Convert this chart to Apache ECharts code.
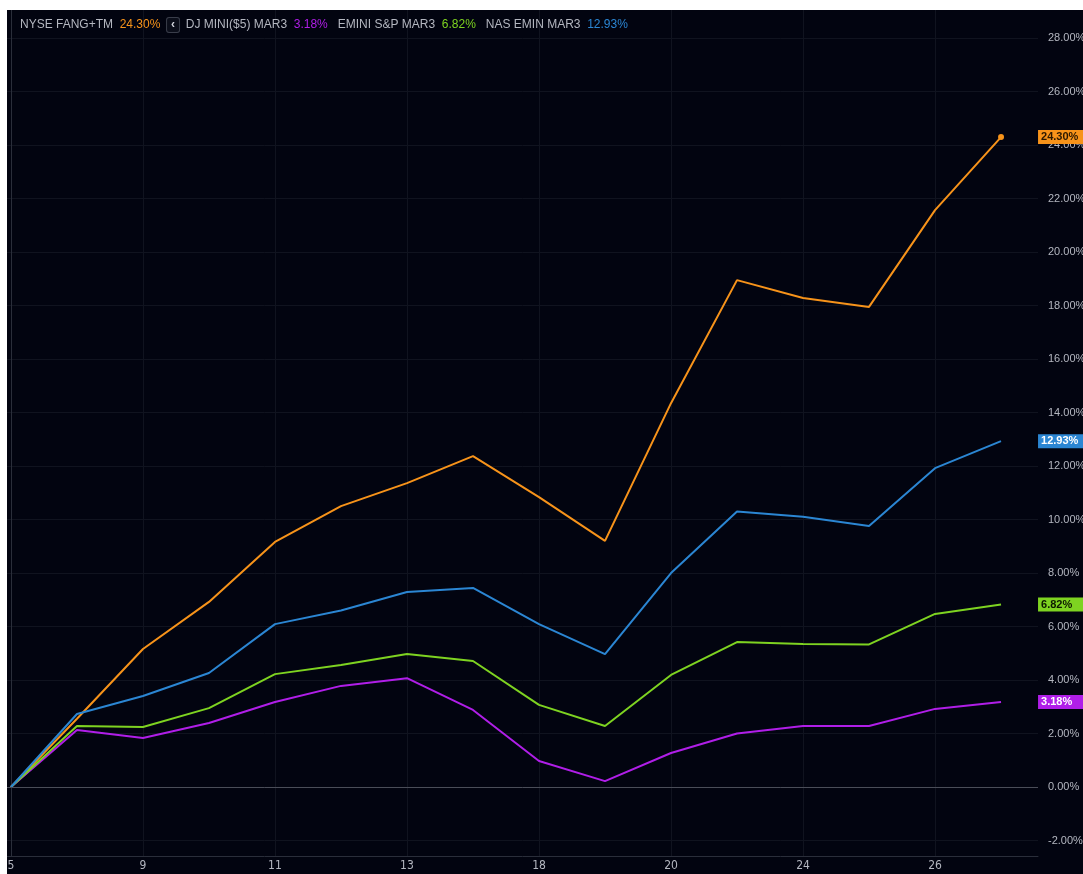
<!DOCTYPE html>
<html>
<head>
<meta charset="utf-8">
<script src="https://cdn.jsdelivr.net/npm/echarts@6/dist/echarts.min.js"></script>
<style>
  html, body { margin: 0; padding: 0; background: #ffffff; }
  #chart { position: absolute; left: 7px; top: 10px; width: 1076px; height: 864px; background: #020410; }
</style>
</head>
<body>
<div id="chart"></div>
<script>
// trading days (Jan), one per point
var days = ['5', '6', '9', '10', '11', '12', '13', '17', '18', '19', '20', '23', '24', '25', '26', '27'];
// which day labels are shown on the time axis (index into days)
var dayTicks = [0, 2, 4, 6, 8, 10, 12, 14];
// price scale ticks, in percent
var pctTicks = [-2, 0, 2, 4, 6, 8, 10, 12, 14, 16, 18, 20, 22, 24, 26, 28];

// cumulative change in %
var fangValues  = [0, 2.55, 5.16, 6.92, 9.16, 10.50, 11.36, 12.37, 10.84, 9.20, 14.35, 18.95, 18.28, 17.95, 21.57, 24.30];
var djValues    = [0, 2.13, 1.83, 2.39, 3.18, 3.78, 4.07, 2.88, 0.97, 0.22, 1.27, 2.00, 2.28, 2.28, 2.92, 3.18];
var spValues    = [0, 2.28, 2.24, 2.95, 4.22, 4.56, 4.97, 4.71, 3.07, 2.28, 4.19, 5.42, 5.35, 5.33, 6.47, 6.82];
var nasValues   = [0, 2.73, 3.40, 4.26, 6.09, 6.60, 7.29, 7.44, 6.09, 4.97, 8.00, 10.30, 10.10, 9.76, 11.92, 12.93];

var names = ['NYSE FANG+TM', 'DJ MINI($5) MAR3', 'EMINI S&P MAR3', 'NAS EMIN MAR3'];

var chart = echarts.init(document.getElementById('chart'));

function pct(v) { return v.toFixed(2) + '%'; }
function last(a) { return a[a.length - 1]; }

// turn a value list into [index, value] pairs; optional dot on the last point
function toPoints(values, lastDot) {
    return values.map(function(v, i) {
        if (lastDot && i === values.length - 1) {
            return { value: [i, v], symbol: 'circle', symbolSize: 6 };
        }
        return [i, v];
    });
}

function lineSeries(name, values, color, tagText, lastDot) {
    return {
        type: 'line',
        name: name,
        data: toPoints(values, lastDot),
        showSymbol: true,
        symbol: 'none',
        lineStyle: { color: color, width: 2 },
        itemStyle: { color: color },
        silent: true,
        animation: false,
        endLabel: {
            show: true,
            distance: 37,
            formatter: function() { return pct(last(values)); },
            backgroundColor: color,
            color: tagText,
            fontFamily: 'Liberation Sans',
            fontSize: 11,
            fontWeight: 'bold',
            lineHeight: 14,
            padding: [0, 12, 0, 3]
        }
    };
}

var legendText =
    '{n|' + names[0] + '}  {o|' + pct(last(fangValues)) + '}  {b|‹}  ' +
    '{n|' + names[1] + '}  {p|' + pct(last(djValues)) + '}   ' +
    '{n|' + names[2] + '}  {g|' + pct(last(spValues)) + '}   ' +
    '{n|' + names[3] + '}  {c|' + pct(last(nasValues)) + '}';

var legendFont = { fontSize: 12, fontWeight: 'normal', fontFamily: 'Liberation Sans' };

var option = {
    backgroundColor: '#020410',
    animation: false,
    title: {
        text: legendText,
        left: 13,
        top: 8,
        padding: 0,
        textStyle: {
            fontFamily: 'Liberation Sans',
            fontSize: 12,
            fontWeight: 'normal',
            rich: {
                n: Object.assign({ color: '#b4b7c0' }, legendFont),
                o: Object.assign({ color: '#f7931a' }, legendFont),
                p: Object.assign({ color: '#b01ee8' }, legendFont),
                g: Object.assign({ color: '#7ed321' }, legendFont),
                c: Object.assign({ color: '#2b86d3' }, legendFont),
                b: { color: '#d1d4dc', fontSize: 12, fontWeight: 'bold', borderColor: '#3a3e4b', borderWidth: 1, borderRadius: 2, padding: [1, 4, 1, 4], backgroundColor: '#0b0e1a' }
            }
        }
    },
    grid: { left: 0, right: 45, top: 0, bottom: 18, containLabel: false, outerBoundsMode: 'none' },
    xAxis: {
        type: 'value',
        min: -0.06,
        max: 15.56,
        axisLine: { show: true, onZero: false, lineStyle: { color: '#2a2e3a' } },
        axisTick: { show: false, customValues: dayTicks },
        axisLabel: {
            customValues: dayTicks,
            formatter: function(v) { return days[v]; },
            color: '#b4b7c0',
            fontFamily: 'DejaVu Sans Condensed',
            fontSize: 12,
            margin: 4
        },
        splitLine: { show: true, lineStyle: { color: '#10131f', width: 1 } }
    },
    yAxis: {
        type: 'value',
        position: 'right',
        min: -2.58,
        max: 29.05,
        axisLine: { show: true, lineStyle: { color: '#2a2e3a' } },
        axisTick: { show: false, customValues: pctTicks },
        axisLabel: {
            customValues: pctTicks,
            formatter: function(v) { return pct(v); },
            color: '#b4b7c0',
            fontFamily: 'Liberation Sans',
            fontSize: 11,
            margin: 10,
            align: 'left'
        },
        splitLine: { show: true, lineStyle: { color: '#10131f', width: 1 } }
    },
    series: [
        lineSeries(names[0], fangValues, '#f7931a', '#2a1800', true),
        lineSeries(names[1], djValues, '#b01ee8', '#ffffff', false),
        lineSeries(names[2], spValues, '#7ed321', '#0d1a00', false),
        lineSeries(names[3], nasValues, '#2b86d3', '#ffffff', false),
        {
            // zero line of the percent scale
            type: 'line',
            data: [],
            silent: true,
            markLine: {
                silent: true,
                symbol: 'none',
                label: { show: false },
                lineStyle: { color: '#4a4d58', type: 'solid', width: 1 },
                data: [{ yAxis: 0 }]
            }
        }
    ]
};

chart.setOption(option);

window.onresize = function() {
    chart.resize();
};
</script>
</body>
</html>
